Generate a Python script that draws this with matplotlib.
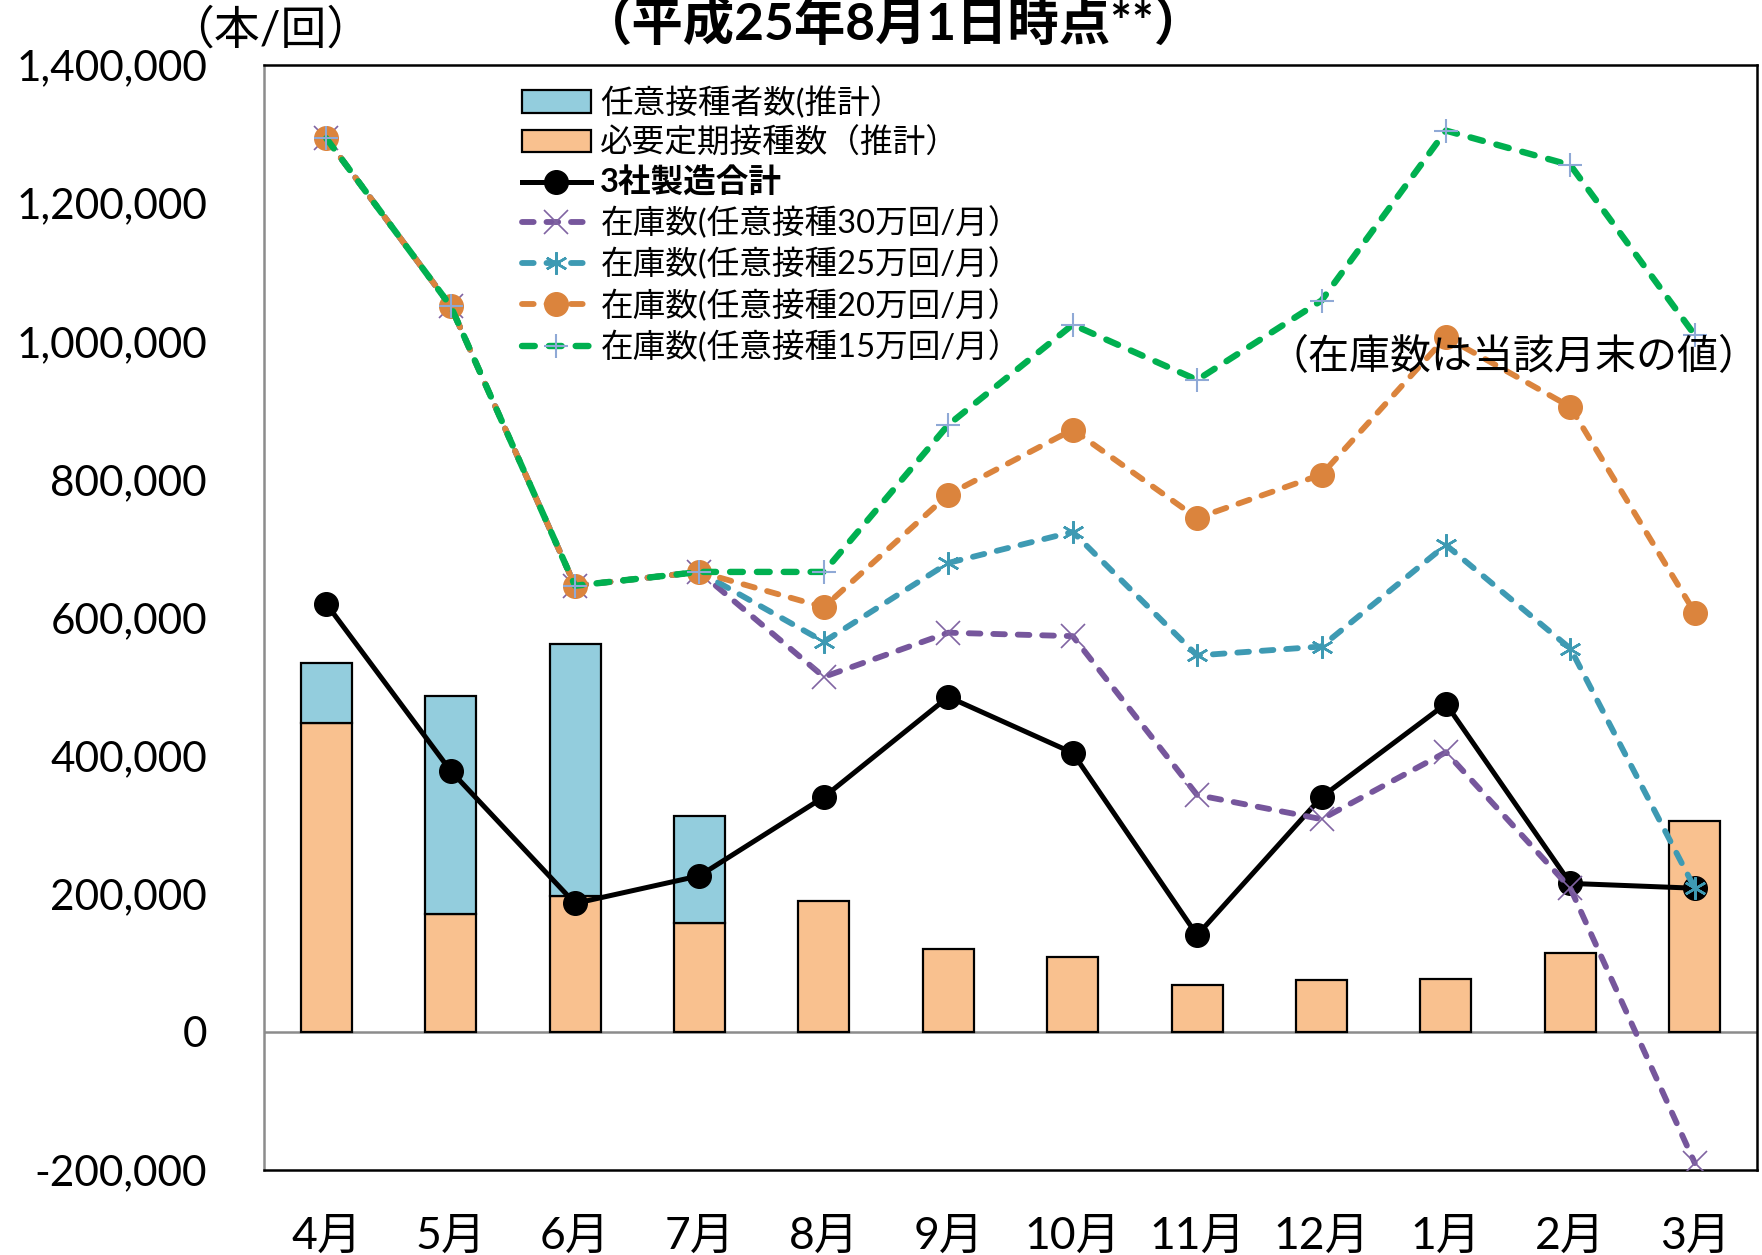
import matplotlib
matplotlib.use("Agg")
import matplotlib.pyplot as plt
import numpy as np
from matplotlib.ticker import FuncFormatter, MultipleLocator

plt.rcParams['font.family'] = ['Lato', 'Noto Sans CJK JP', 'DejaVu Sans']
plt.rcParams['axes.unicode_minus'] = False

months = ["4月", "5月", "6月", "7月", "8月", "9月", "10月", "11月", "12月", "1月", "2月", "3月"]
required_doses = [447000, 171000, 197000, 158000, 190000, 120000, 109000, 68000, 75000, 77000, 114000, 306000]
voluntary_doses = [87000, 316000, 364000, 155000, 0, 0, 0, 0, 0, 0, 0, 0]
production_total = [620000, 378000, 186000, 226000, 340000, 485000, 404000, 140000, 340000, 475000, 215000, 208000]
stock_30 = [1294000, 1051000, 646000, 666000, 514000, 578000, 573000, 343000, 308000, 405000, 208000, -190000]
stock_25 = [1294000, 1051000, 646000, 666000, 565000, 679000, 724000, 545000, 558000, 705000, 555000, 208000]
stock_20 = [1294000, 1051000, 646000, 666000, 615000, 778000, 872000, 744000, 807000, 1006000, 905000, 607000]
stock_15 = [1294000, 1051000, 646000, 666000, 666000, 879000, 1024000, 944000, 1059000, 1305000, 1255000, 1009000]

labels = ["任意接種者数(推計）", "必要定期接種数（推計）", "3社製造合計",
          "在庫数(任意接種30万回/月）", "在庫数(任意接種25万回/月）",
          "在庫数(任意接種20万回/月）", "在庫数(任意接種15万回/月）"]

W, H = 1762, 1255
fig = plt.figure(figsize=(W / 100, H / 100), dpi=100)
ax = fig.add_axes([264 / W, 1 - 1170 / H, (1757 - 264) / W, (1170 - 65) / H])

x = np.arange(len(months))
bw = 0.41
b_req = ax.bar(x, required_doses, bw, color="#F9C18F", edgecolor="black", linewidth=1.6, zorder=2)
b_vol = ax.bar(x, voluntary_doses, bw, bottom=required_doses, color="#93CDDD",
               edgecolor="black", linewidth=1.6, zorder=2)
for r, v in zip(b_vol, voluntary_doses):
    if v == 0:
        r.set_visible(False)

ax.axhline(0, color="#8c8c8c", linewidth=1.8, zorder=1)

dash = (0, (2.0, 2.2))
l_prod, = ax.plot(x, production_total, color="black", linewidth=3.6, marker="o",
                  markersize=17, markerfacecolor="black", markeredgecolor="black", zorder=4)
l30, = ax.plot(x, stock_30, color="#76569C", linewidth=4.2, linestyle=dash, dash_capstyle="round",
               marker="x", markersize=17, markeredgewidth=1.2, markeredgecolor="#8064A2", zorder=5)
l25, = ax.plot(x, stock_25, color="#3E9AB3", linewidth=4.2, linestyle=dash, dash_capstyle="round",
               marker=(6, 2, 0), markersize=16, markeredgewidth=1.8, markeredgecolor="#3E9AB3", zorder=5)
l20, = ax.plot(x, stock_20, color="#DB843D", linewidth=4.2, linestyle=dash, dash_capstyle="round",
               marker="o", markersize=17, markerfacecolor="#DB843D", markeredgecolor="#DB843D", zorder=5)
l15, = ax.plot(x, stock_15, color="#00B050", linewidth=4.6, linestyle=dash, dash_capstyle="round",
               marker="+", markersize=17, markeredgewidth=1.5, markeredgecolor="#8FA9D6", zorder=6)

ax.set_xlim(-0.5, len(months) - 0.5)
ax.set_ylim(-200000, 1400000)
ax.yaxis.set_major_locator(MultipleLocator(200000))
ax.yaxis.set_major_formatter(FuncFormatter(lambda v, p: f"{int(round(v)):,}"))
ax.set_xticks(x)
ax.set_xticklabels(months)
ax.tick_params(axis="y", length=0, labelsize=30.5, pad=41)
ax.tick_params(axis="x", length=0, labelsize=32, pad=33)

for side in ["top", "right", "bottom"]:
    ax.spines[side].set_color("black")
    ax.spines[side].set_linewidth(1.8)
ax.spines["left"].set_color("#8c8c8c")
ax.spines["left"].set_linewidth(1.8)

leg = ax.legend([b_vol, b_req, l_prod, l30, l25, l20, l15], labels,
                loc="upper left", bbox_to_anchor=(522 / W, 1 - 86 / H),
                bbox_transform=fig.transFigure, frameon=False, fontsize=23.5,
                handlelength=2.1, handletextpad=0.3, labelspacing=0.26,
                borderpad=0, borderaxespad=0)
for t in leg.get_texts():
    if t.get_text() == "3社製造合計":
        t.set_fontweight("bold")

ax.text(1268 / W, 1 - 357 / H, "（在庫数は当該月末の値）", transform=fig.transFigure,
        fontsize=29.5, ha="left", va="center", zorder=7)

fig.text(893 / W, 1 - 24 / H, "（平成25年8月1日時点**）", fontsize=37, fontweight="bold",
         ha="center", va="center")
fig.text(270 / W, 1 - 30 / H, "（本/回）", fontsize=33, ha="center", va="center")

fig.savefig("out.png", dpi=100)
